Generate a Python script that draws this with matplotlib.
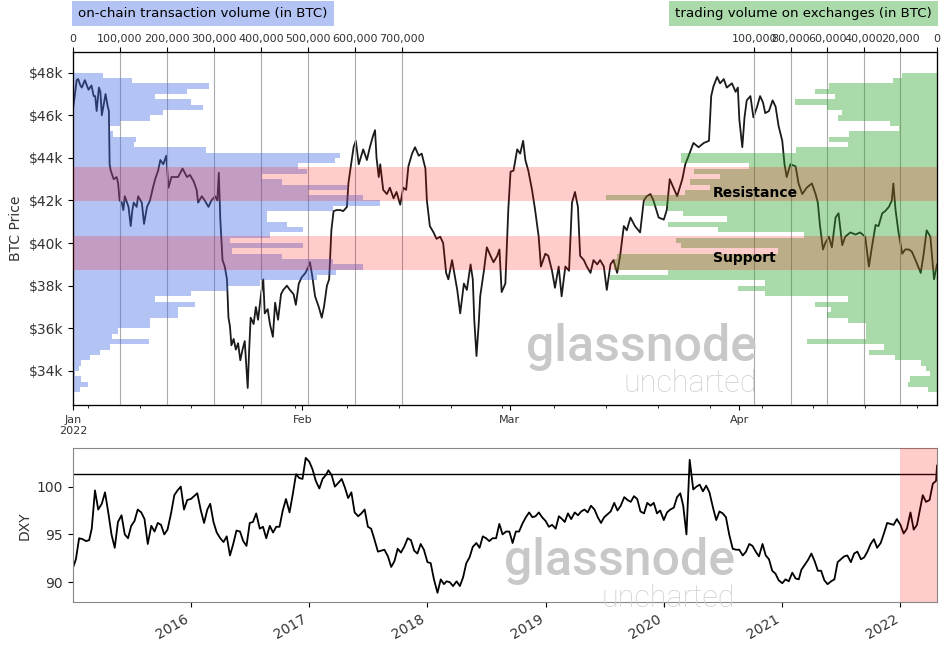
import matplotlib
matplotlib.use("Agg")
import matplotlib.pyplot as plt
import matplotlib.dates as mdates
from matplotlib.ticker import FuncFormatter, FixedLocator, MultipleLocator
import numpy as np
import pandas as pd

# ---------------------------------------------------------------------------
# BTC price (days since 2022-01-01, price in $k)
# ---------------------------------------------------------------------------
btc_day = [
    0.0, 0.2, 0.5, 0.7, 1.0, 1.2, 1.6, 2.1, 2.5, 2.8, 3.0, 3.2, 3.5, 3.7, 3.9,
    4.2, 4.4, 4.7, 4.85, 4.95, 5.1, 5.5, 5.9, 6.1, 6.3, 6.6, 6.8, 7.0, 7.5, 7.8,
    8.0, 8.2, 8.6, 8.8, 9.3, 9.6, 10.0, 10.4, 10.8, 11.1, 11.5, 11.8, 12.2,
    12.6, 12.9, 13.3, 13.8, 14.2, 14.8, 15.4, 15.8, 16.3, 16.7, 16.9, 17.4,
    17.8, 18.3, 18.7, 19.2, 19.5, 19.7, 19.9, 20.2, 20.5, 20.8, 21.0, 21.2,
    21.4, 21.7, 22.0, 22.3, 22.6, 22.9, 23.2, 23.6, 23.8, 24.0, 24.4, 24.7,
    25.0, 25.4, 25.7, 25.9, 26.3, 26.6, 27.0, 27.3, 27.7, 28.1, 28.4, 28.9,
    29.3, 29.8, 30.1, 30.5, 30.9, 31.4, 31.8, 32.0, 32.3, 32.7, 33.2, 33.6,
    33.9, 34.3, 34.6, 34.9, 35.2, 35.6, 36.1, 36.5, 37.0, 37.2, 37.4, 37.9,
    38.2, 38.6, 38.9, 39.2, 39.7, 40.1, 40.5, 40.8, 41.0, 41.3, 41.5, 41.9,
    42.4, 42.8, 43.3, 43.7, 44.2, 44.6, 45.0, 45.3, 45.8, 46.2, 46.7, 47.1,
    47.6, 47.8, 48.2, 48.7, 49.1, 49.6, 50.0, 50.4, 50.7, 51.2, 51.5, 51.9,
    52.3, 52.8, 53.2, 53.7, 54.0, 54.2, 54.5, 54.8, 55.0, 55.5, 55.9, 56.4,
    56.8, 57.3, 57.6, 57.9, 58.4, 58.8, 59.1, 59.5, 60.0, 60.4, 60.8, 61.1,
    61.5, 62.0, 62.4, 62.9, 63.2, 63.8, 64.2, 64.7, 65.1, 65.6, 66.0, 66.5,
    67.0, 67.4, 67.8, 68.2, 68.5, 69.0, 69.4, 69.9, 70.3, 70.8, 71.2, 71.7,
    72.1, 72.6, 73.0, 73.5, 73.9, 74.4, 74.8, 75.3, 75.9, 76.6, 77.1, 77.5,
    78.0, 78.4, 79.1, 79.8, 80.2, 80.6, 81.1, 81.6, 82.3, 82.7, 83.1, 83.8,
    84.5, 85.2, 85.9, 86.2, 86.5, 87.0, 87.4, 87.9, 88.3, 89.0, 89.5, 89.8,
    90.0, 90.4, 90.7, 91.0, 91.5, 91.9, 92.4, 92.8, 93.2, 93.5, 94.0, 94.5,
    94.9, 95.3, 95.8, 96.1, 96.4, 96.9, 97.6, 98.0, 98.5, 99.1, 99.8, 100.3,
    100.6, 100.9, 101.3, 101.6, 102.1, 102.5, 103.0, 103.4, 103.9, 104.3,
    105.0, 105.7, 106.3, 107.0, 107.5, 107.9, 108.4, 108.8, 109.3, 109.7,
    110.2, 110.6, 110.8, 111.1, 111.5, 112.0, 112.4, 112.9, 113.3, 113.8,
    114.5, 114.9, 115.3, 115.8, 116.3, 116.7,
]
btc_price = [
    46.3, 46.8, 47.65, 47.7, 47.4, 47.3, 47.65, 47.2, 47.4, 46.9, 46.9, 46.2,
    47.3, 47.1, 46.0, 46.6, 47.0, 46.4, 46.2, 43.7, 43.4, 43.0, 43.1, 42.8,
    42.0, 41.9, 41.55, 42.2, 41.7, 40.8, 41.5, 41.9, 41.7, 42.2, 41.9, 40.9,
    41.7, 42.0, 42.6, 43.0, 43.4, 43.9, 43.7, 44.1, 42.6, 43.1, 43.1, 43.1,
    43.5, 43.1, 43.2, 42.9, 42.5, 41.9, 42.2, 42.0, 41.7, 42.0, 42.2, 42.0,
    43.3, 41.1, 39.2, 38.9, 38.3, 36.5, 36.1, 35.2, 35.5, 35.0, 35.3, 34.5,
    35.0, 35.4, 33.2, 35.0, 36.5, 36.2, 37.0, 36.4, 37.6, 38.3, 36.7, 36.9,
    36.2, 35.6, 37.2, 36.4, 37.6, 37.8, 38.0, 37.8, 37.6, 37.1, 38.1, 38.4,
    38.6, 38.9, 39.1, 38.5, 37.5, 37.0, 36.5, 37.0, 38.0, 38.3, 40.6, 41.5,
    41.55, 41.55, 41.5, 41.7, 42.8, 43.3, 44.5, 44.8, 43.7, 44.05, 44.4, 43.9,
    44.5, 45.0, 45.3, 44.0, 43.1, 43.7, 42.5, 42.3, 42.6, 42.1, 42.4, 41.8,
    42.6, 42.5, 43.6, 44.2, 44.5, 44.1, 44.2, 43.5, 42.0, 40.8, 40.5, 40.2,
    40.3, 40.0, 38.6, 38.3, 39.2, 38.6, 37.8, 36.7, 38.1, 37.8, 39.0, 38.3,
    36.4, 34.7, 36.2, 37.5, 38.7, 39.8, 39.4, 39.1, 39.4, 39.7, 37.7, 38.1,
    41.6, 43.35, 43.4, 44.4, 44.2, 44.8, 43.9, 43.4, 42.5, 41.6, 40.3, 38.9,
    39.5, 39.4, 38.7, 37.9, 38.9, 37.5, 38.9, 38.7, 41.9, 42.4, 41.7, 39.4,
    39.2, 38.9, 38.6, 39.2, 39.0, 39.2, 38.9, 37.8, 39.0, 39.2, 38.6, 39.4,
    40.8, 40.6, 41.2, 40.8, 40.5, 42.0, 42.2, 42.3, 42.0, 41.2, 41.1, 41.55,
    43.0, 42.6, 42.2, 43.0, 43.7, 44.05, 44.7, 44.5, 44.7, 44.8, 46.9, 47.35,
    47.8, 47.5, 47.7, 47.3, 47.5, 47.1, 47.3, 45.8, 44.5, 45.9, 46.7, 46.9,
    45.9, 46.4, 46.9, 46.6, 46.1, 46.2, 46.7, 46.4, 45.5, 44.8, 43.7, 43.1,
    43.7, 43.6, 42.8, 42.3, 42.6, 42.8, 42.3, 41.9, 40.8, 39.7, 40.0, 40.3,
    39.8, 41.2, 41.4, 39.9, 40.3, 40.5, 40.4, 40.5, 40.3, 38.9, 39.8, 40.85,
    40.8, 41.4, 41.5, 41.7, 42.0, 42.8, 41.55, 40.5, 39.5, 39.7, 39.7, 39.6,
    39.2, 38.6, 39.5, 40.6, 40.3, 38.3, 39.0,
]

# ---------------------------------------------------------------------------
# Volume profiles: 60 price bins of $250 from $48k (top) down to $33k
# ---------------------------------------------------------------------------
bin_top = [48.0 - 0.25 * i for i in range(60)]
onchain_k = [
    63, 125, 290, 242, 174, 252, 276, 192, 164, 101, 79, 85, 134, 130, 284,
    567, 557, 479, 497, 403, 444, 586, 500, 618, 653, 554, 412, 412, 455, 490,
    419, 334, 489, 338, 444, 554, 618, 560, 520, 398, 330, 252, 174, 260, 224,
    224, 164, 164, 96, 82, 162, 79, 57, 36, 18, 13, 4, 18, 31, 15,
]
exchange_k = [
    19, 24, 59, 67, 56, 78, 60, 52, 54, 26, 21, 48, 59, 49, 77,
    140, 140, 103, 133, 119, 135, 124, 138, 181, 160, 147, 139, 115, 147, 120,
    73, 143, 140, 87, 175, 177, 177, 147, 179, 94, 109, 94, 49, 67, 58,
    60, 49, 39, 39, 39, 71, 29, 37, 23, 9, 6, 4, 15, 16, 5,
]

resistance = (41.98, 43.59)
support = (38.73, 40.33)

# ---------------------------------------------------------------------------
# DXY, three readings per month (1st, 11th, 21st), Jan 2015 - Apr 2022
# ---------------------------------------------------------------------------
dxy_values = [
    # 2015
    91.5, 92.4, 94.6, 94.5, 94.3, 94.4, 95.6, 99.6, 97.6, 98.2, 99.4, 97.3,
    95.0, 93.6, 96.3, 97.0, 95.0, 94.6, 95.9, 96.4, 97.6, 97.3, 96.6, 94.0,
    95.9, 95.3, 96.2, 96.0, 95.0, 95.5, 97.2, 99.1, 99.6, 100.0, 97.6, 98.6,
    # 2016
    98.7, 99.0, 99.3, 97.5, 96.2, 97.6, 98.2, 96.3, 95.2, 94.6, 94.2, 94.8,
    92.8, 94.0, 95.4, 95.3, 94.3, 93.8, 96.2, 96.3, 97.2, 95.6, 95.8, 94.6,
    95.9, 95.2, 95.8, 95.8, 97.5, 98.7, 97.3, 99.2, 101.3, 100.9, 100.8, 103.0,
    # 2017
    102.6, 101.8, 100.6, 99.8, 100.8, 101.2, 101.7, 101.2, 100.0, 100.4, 100.8, 99.9,
    98.8, 99.4, 97.3, 96.9, 97.2, 97.6, 95.8, 95.6, 94.5, 93.2, 93.3, 93.4,
    92.7, 91.6, 92.2, 93.5, 93.1, 93.7, 94.6, 94.4, 93.3, 93.0, 94.0, 93.4,
    # 2018
    92.1, 92.0, 90.3, 88.9, 90.3, 89.8, 90.1, 90.0, 89.6, 90.1, 89.6, 90.5,
    92.0, 92.6, 93.7, 94.1, 93.6, 94.8, 94.6, 94.3, 94.6, 94.6, 96.1, 95.0,
    95.3, 95.3, 94.1, 95.3, 95.3, 96.1, 96.8, 97.3, 96.8, 96.9, 97.3, 96.8,
    # 2019
    96.4, 95.8, 96.0, 95.6, 96.9, 96.6, 96.3, 97.2, 96.6, 97.3, 97.0, 97.4,
    97.6, 97.3, 98.0, 97.6, 96.8, 96.2, 96.8, 97.1, 97.4, 98.3, 97.5, 98.0,
    98.9, 98.6, 98.4, 99.0, 98.7, 97.4, 97.2, 98.3, 98.0, 98.3, 97.2, 97.5,
    # 2020
    96.5, 97.3, 97.6, 97.8, 98.9, 99.3, 98.0, 95.0, 102.8, 99.7, 100.0, 100.2,
    99.5, 100.1, 99.4, 97.8, 96.5, 97.4, 97.2, 96.8, 95.0, 93.5, 93.4, 93.4,
    92.8, 93.2, 94.0, 93.8, 93.2, 92.7, 94.0, 92.8, 92.4, 91.2, 90.9, 90.2,
    # 2021
    89.9, 90.3, 90.1, 91.0, 90.4, 90.3, 91.3, 91.8, 92.3, 93.0, 92.2, 91.2,
    91.2, 90.2, 89.8, 90.1, 90.3, 92.1, 92.4, 92.7, 92.8, 92.1, 93.0, 93.2,
    92.4, 92.6, 93.2, 94.0, 94.5, 93.6, 94.1, 95.1, 96.2, 96.1, 96.0, 96.6,
    # 2022
    96.0, 95.1, 95.6, 97.3, 95.5, 96.0, 97.4, 99.1, 98.4, 98.6, 100.3, 100.6,
    102.2,
]
dxy_dates = [pd.Timestamp(y, m, d) for y in range(2015, 2023)
             for m in range(1, 13) for d in (1, 11, 21)][:len(dxy_values) - 1]
dxy_dates[0] = pd.Timestamp(2015, 1, 2)
dxy_dates.append(pd.Timestamp(2022, 4, 24))
dxy_level = 101.3
highlight_start = pd.Timestamp(2022, 1, 1)

# ---------------------------------------------------------------------------
# Figure
# ---------------------------------------------------------------------------
BLUE = "#b3c3f3"
GREEN = "#aad9aa"
TXT = "#333333"

fig = plt.figure(figsize=(9.44, 6.46), dpi=100)
ax = fig.add_axes([0.0773, 0.3731, 0.9153, 0.5464])
axd = fig.add_axes([0.0773, 0.0676, 0.9153, 0.2384])

btc_dates = [pd.Timestamp(2022, 1, 1) + pd.Timedelta(days=d) for d in btc_day]
ax.plot(btc_dates, btc_price, color="#1a1a1a", lw=1.3, zorder=1)
ax.set_xlim(btc_dates[0], btc_dates[-1])
ax.set_ylim(32.4, 48.97)
ax.yaxis.set_major_locator(MultipleLocator(2))
ax.yaxis.set_major_formatter(FuncFormatter(lambda v, p: f"${v:.0f}k"))
ax.set_ylabel("BTC Price", fontsize=10, color=TXT)
ax.tick_params(axis="y", labelsize=10, labelcolor=TXT)


def month_label(v, pos):
    d = mdates.num2date(v)
    return d.strftime("%b\n%Y") if d.month == 1 else d.strftime("%b")


ax.xaxis.set_major_locator(mdates.MonthLocator())
ax.xaxis.set_major_formatter(FuncFormatter(month_label))
ax.xaxis.set_minor_locator(mdates.WeekdayLocator(byweekday=mdates.MO))
ax.tick_params(axis="x", labelsize=8, labelcolor=TXT)

bottoms = [t - 0.25 for t in bin_top]

# on-chain volume profile, growing from the left
ax_on = ax.twiny()
ax_on.barh(bottoms, [v * 1000 for v in onchain_k], height=0.25, align="edge",
           color="royalblue", alpha=0.4, lw=0, zorder=2)
ax_on.set_xlim(0, 1838000)
ax_on.xaxis.set_major_locator(FixedLocator(list(range(0, 800000, 100000))))
ax_on.xaxis.set_major_formatter(FuncFormatter(lambda v, p: f"{v:,.0f}"))
ax_on.tick_params(axis="x", labelsize=8, pad=2, labelcolor=TXT)
ax_on.grid(axis="x", color="#aaaaaa", lw=0.8)

# exchange volume profile, growing from the right
ax_ex = ax.twiny()
ax_ex.barh(bottoms, [v * 1000 for v in exchange_k], height=0.25, align="edge",
           color="tab:green", alpha=0.4, lw=0, zorder=2)
ax_ex.set_xlim(473000, 0)
ax_ex.xaxis.set_major_locator(FixedLocator(list(range(0, 120000, 20000))))
ax_ex.xaxis.set_major_formatter(FuncFormatter(lambda v, p: f"{v:,.0f}"))
ax_ex.tick_params(axis="x", labelsize=8, pad=2, labelcolor=TXT)
ax_ex.grid(axis="x", color="#aaaaaa", lw=0.8)

for lo, hi in (resistance, support):
    ax_ex.axhspan(lo, hi, color="red", alpha=0.2, lw=0, zorder=3)

lab = ax_ex.get_yaxis_transform()
ax_ex.text(0.741, 42.35, "Resistance", transform=lab,
           fontsize=10, fontweight="bold", va="center", ha="left", zorder=5)
ax_ex.text(0.741, 39.3, "Support", transform=lab,
           fontsize=10, fontweight="bold", va="center", ha="left", zorder=5)

# watermark
ax_ex.text(0.7917, 0.125, "glassnode", transform=ax_ex.transAxes, ha="right",
           va="baseline", fontsize=36, family="Roboto", fontweight="medium",
           color="#c8c8c8", zorder=4)
ax_ex.text(0.7917, 0.038, "uncharted", transform=ax_ex.transAxes, ha="right",
           va="baseline", fontsize=22, family="Roboto", fontweight="light",
           color="#d0d0d0", zorder=4)

# header boxes
fig.text(0.0829, 0.979, "on-chain transaction volume (in BTC)", fontsize=9.6,
         ha="left", va="center",
         bbox=dict(boxstyle="square,pad=0.45", fc=BLUE, ec="none"))
fig.text(0.987, 0.979, "trading volume on exchanges (in BTC)", fontsize=9.6,
         ha="right", va="center",
         bbox=dict(boxstyle="square,pad=0.45", fc=GREEN, ec="none"))

# ---------------------------------------------------------------------------
# DXY panel
# ---------------------------------------------------------------------------
axd.plot(dxy_dates, dxy_values, color="black", lw=1.3, zorder=1)
axd.axhline(dxy_level, color="black", lw=1, zorder=2)
axd.axvspan(highlight_start, dxy_dates[-1], color="red", alpha=0.2, lw=0, zorder=3)
axd.set_xlim(dxy_dates[0], dxy_dates[-1])
axd.set_ylim(87.9, 104.0)
axd.set_yticks([90, 95, 100])
axd.set_ylabel("DXY", fontsize=10, color=TXT)
axd.xaxis.set_major_locator(mdates.YearLocator())
axd.xaxis.set_major_formatter(mdates.DateFormatter("%Y"))
axd.tick_params(labelsize=10, labelcolor=TXT)
for lbl in axd.get_xticklabels():
    lbl.set_rotation(30)
    lbl.set_ha("right")
for sp in axd.spines.values():
    sp.set_color("#888888")

axd.text(0.766, 0.18, "glassnode", transform=axd.transAxes, ha="right",
         va="baseline", fontsize=36, family="Roboto", fontweight="medium",
         color="#c8c8c8", zorder=4)
axd.text(0.766, -0.03, "uncharted", transform=axd.transAxes, ha="right",
         va="baseline", fontsize=22, family="Roboto", fontweight="light",
         color="#d0d0d0", zorder=4, clip_on=False)

fig.savefig("out.png", dpi=100)
